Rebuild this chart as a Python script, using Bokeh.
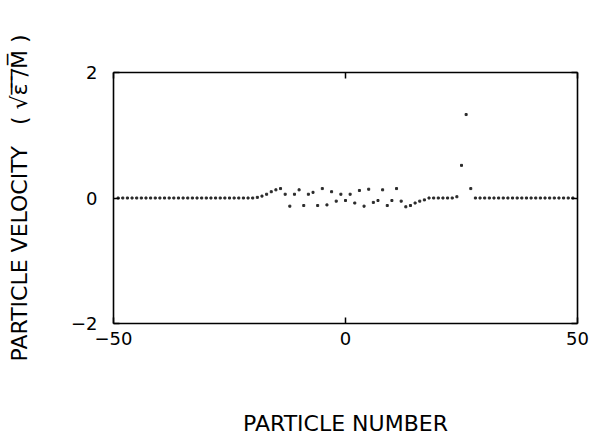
from bokeh.plotting import figure
from bokeh.models import LinearAxis, FixedTicker, Range1d
from bokeh.embed import file_html
from bokeh.resources import INLINE

particle = [-49, -48, -47, -46, -45, -44, -43, -42, -41, -40,
            -39, -38, -37, -36, -35, -34, -33, -32, -31, -30,
            -29, -28, -27, -26, -25, -24, -23, -22, -21, -20,
            -19, -18, -17, -16, -15, -14, -13, -12, -11, -10,
            -9, -8, -7, -6, -5, -4, -3, -2, -1, 0,
            1, 2, 3, 4, 5, 6, 7, 8, 9, 10,
            11, 12, 13, 14, 15, 16, 17, 18, 19, 20,
            21, 22, 23, 24, 25, 26, 27, 28, 29, 30,
            31, 32, 33, 34, 35, 36, 37, 38, 39, 40,
            41, 42, 43, 44, 45, 46, 47, 48, 49]
velocity = [0, 0, 0, 0, 0, 0, 0, 0, 0, 0,
            0, 0, 0, 0, 0, 0, 0, 0, 0, 0,
            0, 0, 0, 0, 0, 0, 0, 0, 0, 0,
            0.01, 0.03, 0.06, 0.10, 0.13, 0.15, 0.06, -0.13, 0.06, 0.13,
            -0.12, 0.06, 0.09, -0.12, 0.15, -0.11, 0.10, -0.05, 0.06, -0.04,
            0.06, -0.08, 0.12, -0.13, 0.14, -0.07, -0.04, 0.13, -0.12, -0.04,
            0.15, -0.05, -0.14, -0.12, -0.08, -0.05, -0.03, 0, 0, 0,
            0, 0, 0, 0.02, 0.52, 1.33, 0.15, 0, 0, 0,
            0, 0, 0, 0, 0, 0, 0, 0, 0, 0,
            0, 0, 0, 0, 0, 0, 0, 0, 0]
x_ticks = [-50, 0, 50]
y_ticks = [-2, 0, 2]
y_tick_labels = {-2: "\u22122", 0: "0", 2: "2"}

FONT = "DejaVu Sans"
NB = "\u00a0"

p = figure(width=590, height=439, output_backend="svg", toolbar_location=None,
           x_range=Range1d(-50, 50), y_range=Range1d(-2, 2),
           x_axis_location=None, y_axis_location=None,
           min_border_left=113, min_border_right=13,
           min_border_top=72, min_border_bottom=116)
p.grid.visible = False
p.outline_line_color = None
p.background_fill_color = "white"
p.border_fill_color = "white"

def style(ax):
    ax.axis_line_color = "black"
    ax.axis_line_width = 1.6
    ax.major_tick_in = 6
    ax.major_tick_out = 0
    ax.major_tick_line_color = "black"
    ax.major_tick_line_width = 1.5
    ax.minor_tick_line_color = None
    ax.major_label_text_font = FONT
    ax.major_label_text_font_size = "18px"
    ax.major_label_text_color = "black"
    ax.axis_label_text_font = FONT
    ax.axis_label_text_font_size = "22px"
    ax.axis_label_text_font_style = "normal"
    ax.axis_label_text_color = "black"

xb = LinearAxis(ticker=FixedTicker(ticks=x_ticks), axis_label="PARTICLE NUMBER")
style(xb)
xb.major_label_standoff = 8
xb.axis_label_standoff = 63
p.add_layout(xb, "below")

xt = LinearAxis(ticker=FixedTicker(ticks=x_ticks))
style(xt)
xt.major_label_overrides = {t: "" for t in x_ticks}
xt.major_label_standoff = 0
p.add_layout(xt, "above")

y_title = ("PARTICLE" + NB + "VELOCITY" + NB * 3 + "(" + NB + "\u221a\u03b5\u0305" + NB
           + "\u0305/\u0305M\u0305" + NB + ")")
yl = LinearAxis(ticker=FixedTicker(ticks=y_ticks), axis_label=y_title)
style(yl)
yl.major_label_overrides = y_tick_labels
yl.major_label_orientation = "horizontal"
yl.major_label_standoff = 16
yl.axis_label_standoff = 36
p.add_layout(yl, "left")

yr = LinearAxis(ticker=FixedTicker(ticks=y_ticks))
style(yr)
yr.major_label_overrides = {t: "" for t in y_ticks}
yr.major_label_standoff = 0
p.add_layout(yr, "right")

p.scatter(particle, velocity, marker="square", size=2.0, color="#2a2a2a")

open("out.html", "w").write(file_html(p, INLINE))
